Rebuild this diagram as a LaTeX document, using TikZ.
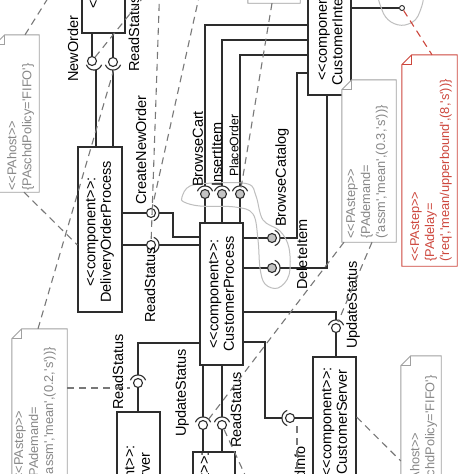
\documentclass[tikz,border=0pt]{standalone}
\usepackage{fontspec}
\newfontfamily\lsans{Liberation Sans}
\definecolor{ln}{RGB}{45,45,45}
\definecolor{notegray}{RGB}{160,160,160}
\definecolor{notetext}{RGB}{135,135,135}
\definecolor{dashc}{RGB}{120,120,120}
\definecolor{redc}{RGB}{205,70,60}
\definecolor{ballgray}{RGB}{195,195,195}
\definecolor{blobc}{RGB}{190,190,190}
\newcommand{\guil}{<\kern0pt<}
\newcommand{\guir}{>\kern0pt>}
\newcommand{\notebody}[2]{%
  \draw[draw=#2, line width=0.9pt, fill=white] ([yshift=-10pt]#1.north west) -- ([xshift=10pt]#1.north west) -- (#1.north east) -- (#1.south east) -- (#1.south west) -- cycle;
  \draw[draw=#2, line width=0.9pt] ([yshift=-10pt]#1.north west) -- ([xshift=10pt,yshift=-10pt]#1.north west) -- ([xshift=10pt]#1.north west);}
\newcommand{\sock}[3]{\draw[wire, shift={(#1)}] plot[domain=#2:#3, samples=24, smooth] ({8*cos(\x)},{8*sin(\x)});}
\begin{document}
\begin{tikzpicture}[x=1pt,y=-1pt, font=\lsans\fontsize{14.5}{15.5}\selectfont,
  wire/.style={draw=ln, line width=1.1pt},
  comp/.style={draw=ln, line width=1.2pt, fill=white, inner sep=0, rectangle},
  ctext/.style={rotate=90, align=center, inner sep=0},
  lbl/.style={rotate=90, anchor=west, inner sep=0},
  ifball/.style={circle, draw=ln, line width=1.1pt, fill=white, minimum size=9pt, inner sep=0},
  gball/.style={ifball, fill=ballgray},
  notebox/.style={inner sep=0, rectangle},
  ntext/.style={rotate=90, anchor=north west, align=left, inner sep=0, text=notetext, font=\lsans\fontsize{12.8}{15}\selectfont},
  dline/.style={draw=dashc, line width=1.1pt, dash pattern=on 7pt off 5pt},
]
\useasboundingbox (0,0) rectangle (474,474);
\clip (0,0) rectangle (474,474);
\fill[white] (0,0) rectangle (474,474);

% components
\node[comp, minimum width=43pt, minimum height=94pt] (top) at (103.5,-14) {};
\node[ctext] (topt) at (95,-46) {\guil component\guir:};
\node[comp, minimum width=44pt, minimum height=165pt] (dop) at (100,229.5) {};
\node[ctext] (dopt) at (100,232) {\guil component\guir:\\DeliveryOrderProcess};
\node[comp, minimum width=43pt, minimum height=142pt] (cp) at (221.5,294) {};
\node[ctext] (cpt) at (221.5,294) {\guil component\guir:\\CustomerProcess};
\node[comp, minimum width=43pt, minimum height=138pt] (ci) at (329.5,26) {};
\node[ctext] (cit) at (330,26) {\guil component\guir:\\CustomerInterface};
\node[comp, minimum width=43pt, minimum height=178pt] (c5) at (138.5,501) {};
\node[ctext] (c5t) at (139,500) {\guil component\guir:\\DeliveryServer};
\node[comp, minimum width=42pt, minimum height=108pt] (c6) at (214,506) {};
\node[ctext] (c6t) at (206,507) {\guil component\guir:};
\node[comp, minimum width=43pt, minimum height=130pt] (cs) at (334.5,422) {};
\node[ctext] (cst) at (334.5,422) {\guil component\guir:\\CustomerServer};

% balls
\node[ifball] (bNO) at (92,61) {};
\node[ifball] (bRS1) at (113,62) {};
\node[ifball] (bCNO) at (151,213) {};
\node[ifball] (bRS2) at (151,245) {};
\node[gball] (bBC) at (205,194) {};
\node[gball] (bII) at (222,194) {};
\node[gball] (bPO) at (240,194) {};
\node[gball] (bBCat) at (272,238) {};
\node[gball] (bDI) at (272,268) {};
\node[ifball] (bRS3) at (138,383) {};
\node[ifball] (bUS1) at (203,425) {};
\node[ifball] (bRS4) at (222,425) {};
\node[ifball] (bRI) at (290,418) {};
\node[ifball] (bUS2) at (336,328) {};
\node[circle, draw=ln, line width=0.9pt, fill=white, minimum size=5pt, inner sep=0] (pt) at (402,8) {};

% wires and sockets
\draw[wire] (bNO |- top.south) -- (bNO.north);
\sock{94,62}{20}{160}
\draw[wire] (96,70) -- (96,0 |- dop.north);
\draw[wire] (bRS1 |- top.south) -- (bRS1.north);
\sock{bRS1}{20}{160}
\draw[wire] (113,70) -- (113,0 |- dop.north);

\draw[wire] (dop.east |- bCNO) -- (bCNO.west);
\sock{bCNO}{-70}{70}
\draw[wire] (159,213) -- (173,213) -- (173,237) -- (cp.west |- 0,237);
\draw[wire] (dop.east |- bRS2) -- (bRS2.west);
\sock{bRS2}{-70}{70}
\draw[wire] (159,245) -- (cp.west |- 0,245);

\draw[wire] (bBC |- cp.north) -- (bBC.south);
\sock{bBC}{200}{340}
\draw[wire] (205,186) -- (205,25) -- (ci.west |- 0,25);
\draw[wire] (bII |- cp.north) -- (bII.south);
\sock{bII}{200}{340}
\draw[wire] (222,186) -- (222,40) -- (ci.west |- 0,40);
\draw[wire] (bPO |- cp.north) -- (bPO.south);
\sock{bPO}{200}{340}
\draw[wire] (240,186) -- (240,55) -- (ci.west |- 0,55);

\draw[wire] (cp.east |- bBCat) -- (bBCat.west);
\sock{bBCat}{-70}{70}
\draw[wire] (280,238) -- (297,238) -- (297,73) -- (ci.west |- 0,73);
\draw[wire] (cp.east |- bDI) -- (bDI.west);
\sock{bDI}{-70}{70}
\draw[wire] (280,268) -- (327,268) -- (327,0 |- ci.south);

\draw[wire] (bRS3 |- c5.north) -- (bRS3.south);
\sock{bRS3}{200}{340}
\draw[wire] (138,375) -- (138,343) -- (cp.west |- 0,343);
\draw[wire] (bUS1 |- c6.north) -- (bUS1.south);
\sock{bUS1}{200}{340}
\draw[wire] (203,417) -- (203,0 |- cp.south);
\draw[wire] (bRS4 |- c6.north) -- (bRS4.south);
\sock{bRS4}{200}{340}
\draw[wire] (222,417) -- (222,0 |- cp.south);

\draw[wire] (cp.east |- 0,342) -- (265,342) -- (265,418) -- (282,418);
\sock{bRI}{110}{250}
\draw[wire] (bRI.east) -- (cs.west |- bRI);
\draw[wire] (cp.east |- 0,312) -- (336,312) -- (336,320);
\sock{bUS2}{200}{340}
\draw[wire] (bUS2.south) -- (bUS2 |- cs.north);
\draw[wire] (ci.east |- pt) -- (pt.west);

% grey outlines
\draw[blobc, line width=1pt] plot[smooth cycle, tension=0.6] coordinates {(182,197) (190,186) (215,183) (248,184) (256,196) (263,220) (280,231) (289,248) (289,275) (278,288) (265,284) (260,268) (258,240) (253,214) (235,207) (200,206) (184,202)};
\draw[blobc, line width=1pt] plot[smooth cycle, tension=0.6] coordinates {(381,-10) (382,10) (391,22) (405,25) (418,16) (421,-10)};

% labels
\node[lbl] (lNO) at (73,82) {NewOrder};
\node[lbl] (lRS1) at (134,72) {ReadStatus};
\node[lbl] (lCNO) at (141,205) {CreateNewOrder};
\node[lbl] (lRS2) at (150,323) {ReadStatus};
\node[lbl] (lBC) at (198,187) {BrowseCart};
\node[lbl] (lII) at (217,187) {InsertItem};
\node[lbl, font=\lsans\fontsize{12.3}{14}\selectfont] (lPO) at (234,177) {PlaceOrder};
\node[lbl] (lBCat) at (282,227) {BrowseCatalog};
\node[lbl] (lDI) at (302,290) {DeleteItem};
\node[lbl] (lUS2) at (353,349) {UpdateStatus};
\node[lbl] (lUS1) at (182,437) {UpdateStatus};
\node[lbl] (lRS4) at (236,448) {ReadStatus};
\node[lbl] (lRS3) at (118,410) {ReadStatus};
\node[lbl] (lRI) at (300,505) {ReadInfo};

% notes
\node[notebox, minimum width=44pt, minimum height=157pt] (n1) at (17,113.5) {};
\notebody{n1}{notegray}
\node[ntext] (n1t) at (7,191) {\guil PAhost\guir\\\{PAschdPolicy='FIFO'\}};
\node[notebox, minimum width=55pt, minimum height=154pt] (n2) at (39.5,406) {};
\notebody{n2}{notegray}
\node[ntext] (n2t) at (14,481) {\guil PAstep\guir\\\{PAdemand=\\('assm','mean',(0.2,'s'))\}};
\node[notebox, minimum width=54pt, minimum height=162pt] (n3) at (369,161) {};
\notebody{n3}{notegray}
\node[ntext] (n3t) at (346,239) {\guil PAstep\guir\\\{PAdemand=\\('assm','mean',(0.3,'s'))\}};
\node[notebox, minimum width=55pt, minimum height=211pt] (n4) at (429.5,160.5) {};
\notebody{n4}{redc}
\node[ntext, text=redc] (n4t) at (410,262) {\guil PAstep\guir\\\{PAdelay=\\('req','mean/upperbound',(8,'s'))\}};
\node[notebox, minimum width=40pt, minimum height=149pt] (n5) at (421,430.5) {};
\notebody{n5}{notegray}
\node[ntext] (n5t) at (410,503) {\guil PAhost\guir\\\{PAschdPolicy='FIFO'\}};
\node[notebox, minimum width=52pt, minimum height=103pt] (n6) at (274,-48.5) {};
\notebody{n6}{notegray}

% dashed annotation links
\coordinate (e1) at (55,-13);
\coordinate (e4) at (150,-11);
\coordinate (e5) at (205,-30);
\coordinate (e5b) at (160,-20);
\coordinate (e9) at (252,490);
\coordinate (e12) at (297,480);
\draw[dline] (n1.north -| 25,0) -- (e1);
\draw[dline] (n1.south -| 24,0) -- (dop.west |- 0,245);
\draw[dline] (n2.north -| 38,0) -- (114,69);
\draw[dline] (bNO) -- (e4);
\draw[dline] (e5) -- (bCNO);
\draw[dline] (e5b) -- (bRS2);
\draw[dline] (n6.south -| 272,0) -- (bPO);
\draw[dline] (n3.south -| 344,0) -- (208,420);
\draw[dline] (n3.south -| 372,0) -- (338,322);
\draw[dline] (bRS4) -- (e9);
\draw[dline] (n2.east |- 0,388) -- (130,388);
\draw[dline] (cs.east |- 0,417) -- (n5.west |- 0,461);
\draw[dline] (297,426) -- (e12);
\draw[draw=redc, line width=1.1pt, dash pattern=on 7pt off 5pt] (pt) -- (n4.north -| 432,0);
\end{tikzpicture}
\end{document}
